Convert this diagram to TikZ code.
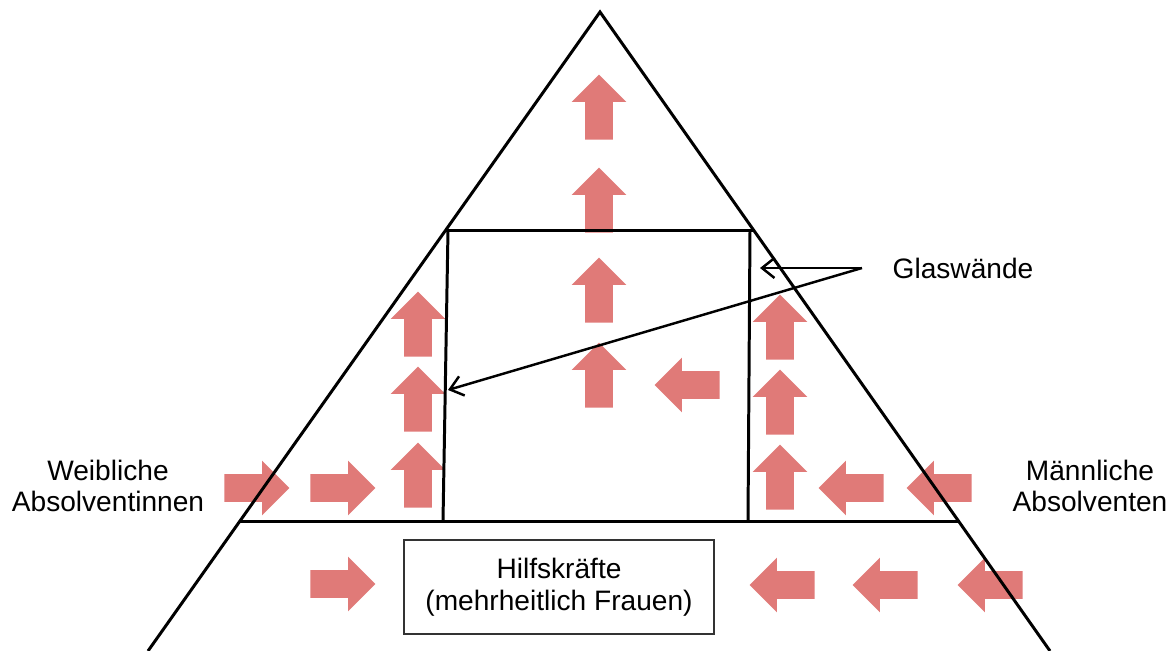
\documentclass[tikz,border=0pt]{standalone}
\usepackage{fontspec}
\setmainfont{Liberation Sans}
\usetikzlibrary{calc,shapes.arrows,arrows.meta}
\definecolor{arrowpink}{RGB}{224,122,120}

\tikzset{
  block/.style={single arrow,fill=arrowpink,draw=none,inner sep=0.27cm,
    single arrow head extend=0.27cm,minimum height=1.3cm},
  up/.style={block,shape border rotate=90},
  lft/.style={block,shape border rotate=180},
  rgt/.style={block},
  wall/.style={line width=1.7pt},
  label/.style={font=\fontsize{16pt}{18pt}\selectfont,align=center}
}

\begin{document}
\begin{tikzpicture}[x=0.02cm,y=-0.02cm]
\useasboundingbox (0,0) rectangle (1176,651);
% pink arrows
\foreach \y [count=\i] in {114,207,297,382} \node[up] (mid\i) at (599,\y) {};
\foreach \y [count=\i] in {331,406,482} \node[up] (lcol\i) at (418,\y) {};
\foreach \y [count=\i] in {334,409,484} \node[up] (rcol\i) at (780,\y) {};
\node[rgt] (lin1) at (250,488) {};
\node[rgt] (lin2) at (336,488) {};
\node[rgt] (lbase) at (336,584) {};
\node[lft] (rin1) at (858,488) {};
\node[lft] (rin2) at (946,488) {};
\node[lft] (cin) at (694,385) {};
\node[lft] (rbase1) at (789,585) {};
\node[lft] (rbase2) at (892,585) {};
\node[lft] (rbase3) at (997,585) {};
% pyramid
\coordinate (apex) at (600,12);
\coordinate (lbot) at (148,651);
\coordinate (rbot) at (1050,651);
\draw[wall] (lbot) -- (apex) -- (rbot);
\draw[wall] ($(apex)!0.3412!(lbot)$) -- ($(apex)!0.3412!(rbot)$);
\draw[wall] ($(apex)!0.7966!(lbot)$) -- ($(apex)!0.7966!(rbot)$);
\draw[wall] (448,230) -- (443,521);
\draw[wall] (750,230) -- (748,521);
% labels
\node[draw=black!80,line width=0.8pt,minimum width=6.2cm,minimum height=1.88cm,label] (hilf) at (559,587)
  {Hilfskräfte\\(mehrheitlich Frauen)};
\node[label] (weib) at (108,486) {Weibliche\\Absolventinnen};
\node[label] (mann) at (1090,486) {Männliche\\Absolventen};
\node[label] (glas) at (963,268) {Glaswände};
\coordinate (gw) at (862,268);
\coordinate (gright) at (760,268);
\coordinate (gleft) at (448,390);
\draw[line width=1.4pt,-{Straight Barb[length=2.5mm,width=4mm]}] (gw) -- (gright);
\draw[line width=1.4pt,-{Straight Barb[length=2.5mm,width=4mm]}] (gw) -- (gleft);
\end{tikzpicture}
\end{document}
